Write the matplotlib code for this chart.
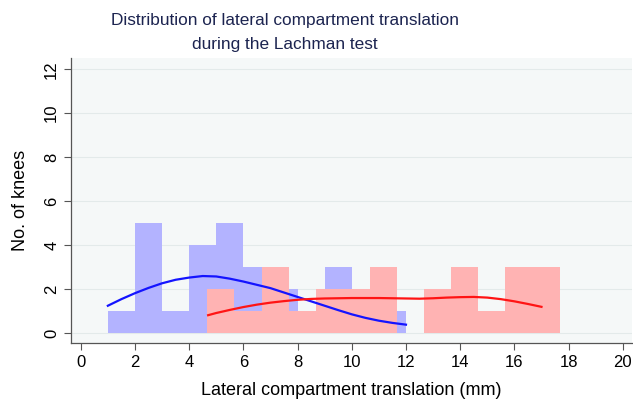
import numpy as np
import matplotlib
matplotlib.use("Agg")
import matplotlib.pyplot as plt

plt.rcParams['font.family'] = ['Liberation Sans', 'DejaVu Sans']

# histogram counts (1 mm bins)
blue_start = 1.0
blue_counts = [1, 5, 1, 4, 5, 3, 2, 1, 3, 2, 1]
red_start = 4.67
red_counts = [2, 1, 3, 1, 2, 2, 3, 0, 2, 3, 1, 3, 3]
bin_width = 1.0

# density curves, scaled to counts
blue_curve_x = [1.0, 1.5, 2.0, 2.5, 3.0, 3.5, 4.0, 4.5, 5.0, 5.5, 6.0, 6.5, 7.0,
                7.5, 8.0, 8.5, 9.0, 9.5, 10.0, 10.5, 11.0, 11.5, 12.0]
blue_curve_y = [1.25, 1.55, 1.82, 2.06, 2.27, 2.43, 2.53, 2.6, 2.58, 2.48, 2.35,
                2.2, 2.05, 1.85, 1.65, 1.45, 1.25, 1.05, 0.86, 0.7, 0.57, 0.47, 0.39]
red_curve_x = [4.7, 5.0, 5.5, 6.0, 6.5, 7.0, 7.5, 8.0, 8.5, 9.0, 9.5, 10.0, 11.0,
               12.0, 12.5, 13.0, 13.5, 14.0, 14.5, 15.0, 15.5, 16.0, 16.5, 17.0]
red_curve_y = [0.82, 0.92, 1.06, 1.19, 1.3, 1.39, 1.46, 1.52, 1.56, 1.58, 1.59,
               1.6, 1.6, 1.58, 1.57, 1.59, 1.62, 1.64, 1.65, 1.62, 1.55, 1.45, 1.33, 1.2]

x_ticks = list(range(0, 21, 2))
y_ticks = list(range(0, 13, 2))

fig = plt.figure(figsize=(6.33, 4.07), dpi=100)
ax = fig.add_axes([71 / 633, 1 - 342.7 / 407, 561 / 633, (342.7 - 58) / 407])
ax.set_facecolor('#f5f8f8')

blue_left = blue_start + bin_width * np.arange(len(blue_counts))
red_left = red_start + bin_width * np.arange(len(red_counts))
ax.bar(blue_left, blue_counts, width=bin_width, align='edge', color='#b3b3ff',
       linewidth=0, zorder=2)
ax.bar(red_left, red_counts, width=bin_width, align='edge', color='#ffb3b3',
       linewidth=0, zorder=3)
ax.plot(blue_curve_x, blue_curve_y, color='#1414ff', lw=1.6, zorder=4)
ax.plot(red_curve_x, red_curve_y, color='#ff1414', lw=1.6, zorder=5)

ax.set_xlim(-0.36, 20.34)
ax.set_ylim(-0.43, 12.51)
ax.set_xticks(x_ticks)
ax.set_yticks(y_ticks)
ax.grid(axis='y', color='#e3eaea', lw=0.8, zorder=0)
ax.tick_params(axis='both', direction='out', length=5, width=0.8, color='#555555',
               labelsize=12)
ax.tick_params(axis='y', labelrotation=90)
for lbl in ax.get_yticklabels():
    lbl.set_va('center')

for side in ['top', 'right']:
    ax.spines[side].set_visible(False)
for side in ['left', 'bottom']:
    ax.spines[side].set_color('#555555')
    ax.spines[side].set_linewidth(0.9)

ax.set_xlabel('Lateral compartment translation (mm)', fontsize=13, labelpad=9)
ax.set_ylabel('No. of knees', fontsize=13, labelpad=11)

fig.text(285 / 633, 1 - 20 / 407, 'Distribution of lateral compartment translation',
         ha='center', va='center', fontsize=12.4, color='#1c2450')
fig.text(285 / 633, 1 - 44 / 407, 'during the Lachman test',
         ha='center', va='center', fontsize=12.4, color='#1c2450')

fig.savefig('out.png', dpi=100)
